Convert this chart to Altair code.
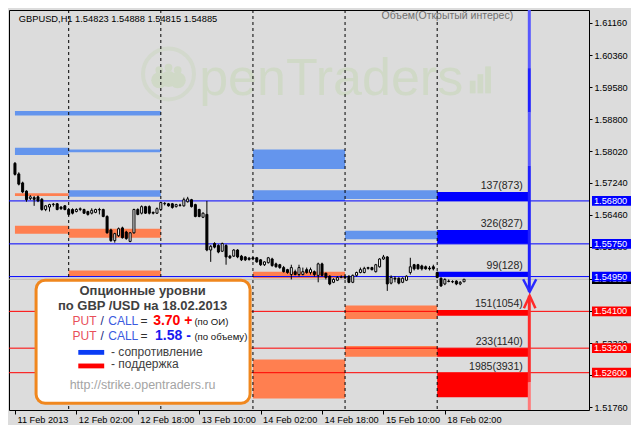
import altair as alt
import pandas as pd

# ---------------- data ----------------
opens = [1.5772,1.5746,1.5724,1.5704,1.5686,1.5688,1.5690,1.5684,1.5659,1.5665,1.5671,1.5673,1.5665,1.5668,1.5659,1.5659,1.5654,1.5659,1.5659,1.5654,
         1.5650,1.5652,1.5659,1.5659,1.5642,1.5609,1.5583,1.5595,1.5614,1.5604,1.5581,1.5602,1.5659,1.5650,1.5666,1.5666,1.5652,1.5650,1.5659,1.5673,
         1.5673,1.5673,1.5666,1.5670,1.5668,1.5678,1.5683,1.5671,1.5659,1.5640,1.5647,1.5560,1.5576,1.5571,1.5557,1.5571,1.5545,1.5545,1.5560,1.5545,
         1.5543,1.5540,1.5541,1.5541,1.5536,1.5524,1.5529,1.5538,1.5526,1.5524,1.5517,1.5512,1.5500,1.5507,1.5500,1.5500,1.5512,1.5505,1.5507,1.5498,
         1.5526,1.5503,1.5496,1.5481,1.5486,1.5493,1.5495,1.5496,1.5481,1.5498,1.5505,1.5505,1.5515,1.5517,1.5507,1.5519,1.5538,1.5543,1.5479,1.5491,
         1.5491,1.5481,1.5486,1.5505,1.5524,1.5524,1.5521,1.5519,1.5516,1.5519,1.5505,1.5491,1.5477,1.5484,1.5482,1.5484,1.5477,1.54823]
highs = [1.5775,1.5750,1.5727,1.5706,1.5694,1.5692,1.5693,1.5687,1.5670,1.5673,1.5675,1.5675,1.5667,1.5670,1.5661,1.5662,1.5662,1.5664,1.5661,1.5656,
         1.5662,1.5661,1.5663,1.5661,1.5645,1.5612,1.5602,1.5615,1.5617,1.5607,1.5604,1.5661,1.5662,1.5669,1.5668,1.5669,1.5654,1.5664,1.5678,1.5677,
         1.5675,1.5675,1.5673,1.5673,1.5688,1.5690,1.5685,1.5673,1.5661,1.5652,1.5680,1.5572,1.5579,1.5574,1.5578,1.5574,1.5548,1.5562,1.5562,1.5548,
         1.5545,1.5543,1.5543,1.5543,1.5538,1.5533,1.5543,1.5541,1.5529,1.5526,1.5521,1.5514,1.5524,1.5512,1.5524,1.5517,1.5517,1.5517,1.5510,1.5529,
         1.5529,1.5505,1.5498,1.5491,1.5496,1.5498,1.5498,1.5498,1.5500,1.5507,1.5517,1.5519,1.5519,1.5519,1.5526,1.5540,1.5548,1.5545,1.5498,1.5496,
         1.5493,1.5493,1.5498,1.5541,1.5526,1.5526,1.5524,1.5522,1.5521,1.5524,1.5507,1.5493,1.5491,1.5488,1.5486,1.5486,1.5484,1.54888]
lows = [1.5742,1.5718,1.5699,1.5678,1.5682,1.5668,1.5677,1.5656,1.5655,1.5654,1.5666,1.5657,1.5658,1.5657,1.5644,1.5647,1.5652,1.5655,1.5648,1.5644,
        1.5647,1.5650,1.5647,1.5640,1.5600,1.5580,1.5578,1.5592,1.5588,1.5585,1.5579,1.5600,1.5645,1.5647,1.5648,1.5647,1.5647,1.5648,1.5657,1.5669,
        1.5666,1.5661,1.5664,1.5666,1.5666,1.5676,1.5664,1.5640,1.5640,1.5638,1.5557,1.5531,1.5564,1.5552,1.5555,1.5524,1.5538,1.5543,1.5540,1.5533,
        1.5533,1.5534,1.5535,1.5529,1.5521,1.5521,1.5527,1.5519,1.5517,1.5514,1.5505,1.5502,1.5488,1.5498,1.5495,1.5498,1.5502,1.5500,1.5495,1.5481,
        1.5495,1.5488,1.5474,1.5479,1.5484,1.5491,1.5489,1.5479,1.5479,1.5495,1.5503,1.5503,1.5512,1.5510,1.5505,1.5517,1.5536,1.5460,1.5476,1.5481,
        1.5476,1.5479,1.5484,1.5500,1.5510,1.5512,1.5510,1.5512,1.5510,1.5510,1.5491,1.5470,1.5474,1.5481,1.5479,1.5474,1.5474,1.54815]
closes = [1.5745,1.5721,1.5702,1.5683,1.5690,1.5684,1.5680,1.5659,1.5668,1.5671,1.5672,1.5659,1.5661,1.5659,1.5647,1.5650,1.5659,1.5661,1.5650,1.5647,
          1.5657,1.5659,1.5658,1.5642,1.5602,1.5583,1.5600,1.5612,1.5590,1.5588,1.5602,1.5659,1.5647,1.5666,1.5650,1.5650,1.5650,1.5661,1.5676,1.5674,
          1.5668,1.5664,1.5671,1.5669,1.5683,1.5685,1.5666,1.5642,1.5642,1.5650,1.5560,1.5569,1.5567,1.5555,1.5576,1.5543,1.5541,1.5560,1.5543,1.5536,
          1.5536,1.5537,1.5538,1.5531,1.5524,1.5531,1.5541,1.5522,1.5519,1.5517,1.5507,1.5505,1.5517,1.5500,1.5517,1.5507,1.5505,1.5512,1.5500,1.5526,
          1.5498,1.5493,1.5477,1.5488,1.5493,1.5494,1.5492,1.5481,1.5498,1.5505,1.5512,1.5515,1.5517,1.5512,1.5524,1.5538,1.5543,1.5477,1.5493,1.5489,
          1.5479,1.5491,1.5496,1.5519,1.5514,1.5514,1.5514,1.5514,1.5514,1.5514,1.5493,1.5472,1.5488,1.5483,1.5483,1.5477,1.5481,1.54885]

x_tick_pos = [0, 16, 32, 48, 64, 80, 96, 112]
x_tick_labels = ["11 Feb 2013", "12 Feb 02:00", "12 Feb 18:00", "13 Feb 10:00",
                 "14 Feb 02:00", "14 Feb 18:00", "15 Feb 10:00", "18 Feb 02:00"]
y_tick_values = [1.6116, 1.6036, 1.5958, 1.5880, 1.5802, 1.5724, 1.5646,
                 1.5568, 1.5490, 1.5412, 1.5332, 1.5254, 1.5176]
# ticks whose labels sit fully under the coloured price boxes
y_tick_covered = [1.5490, 1.5412, 1.5254]
day_separators = [14, 38, 62, 86, 110]

# option zones (bar index start/end, price low/high, kind)
zone_start = [0, 0, 0, 0, 14, 14, 14, 14, 14, 62, 62, 62, 62, 86, 86, 86, 86,
              110, 110, 110, 110, 110, 110]
zone_end = [14, 14, 14, 14, 38, 38, 38, 38, 38, 86, 86, 86, 86, 110, 110, 110, 110,
            134, 134, 134, 134, 134, 134]
zone_low = [1.5889, 1.5792, 1.5692, 1.5600, 1.5889, 1.5799, 1.5690, 1.5590, 1.5496,
            1.5758, 1.5680, 1.5491, 1.5197, 1.5685, 1.5586, 1.5391, 1.5299,
            1.5680, 1.5575, 1.5495, 1.5399, 1.5299, 1.5200]
zone_high = [1.5900, 1.5810, 1.5699, 1.5619, 1.5900, 1.5806, 1.5706, 1.5612, 1.5510,
             1.5806, 1.5706, 1.5507, 1.5292, 1.5706, 1.5607, 1.5424, 1.5325,
             1.5702, 1.5609, 1.5507, 1.5413, 1.5320, 1.5259]
zone_kind = ["res", "res", "sup", "sup", "res", "res", "res", "sup", "sup",
             "res", "res", "sup", "sup", "res", "res", "sup", "sup",
             "res_now", "res_now", "res_now", "sup_now", "sup_now", "sup_now"]
kind_color = {"res": "#6495ED", "sup": "#FF7F50", "res_now": "#0000FF", "sup_now": "#FF0000"}

level_prices = [1.5680, 1.5575, 1.5495, 1.5410, 1.5320, 1.5260]
level_labels = ["1.56800", "1.55750", "1.54950", "1.54100", "1.53200", "1.52600"]
level_colors = ["#0000FF", "#0000FF", "#0000FF", "#FF0000", "#FF0000", "#FF0000"]

vol_labels = ["137(873)", "326(827)", "99(128)", "151(1054)", "233(1140)", "1985(3931)"]
vol_tops = [1.5702, 1.5609, 1.5507, 1.5413, 1.5320, 1.5259]

current_price = 1.54885

# ---------------- layout ----------------
W, H = 580, 400
FONT = "Liberation Sans"
xs = alt.Scale(domain=[-0.25, 148.25], nice=False, zero=False)
ys = alt.Scale(domain=[1.51688, 1.61468], nice=False, zero=False)


def label_expr(vals, labels):
    expr = "''"
    for v, l in zip(reversed(vals), reversed(labels)):
        expr = f"datum.value == {v} ? '{l}' : ({expr})"
    return expr


y_label_expr = " || ".join(f"abs(datum.value - {v}) < 0.00001" for v in y_tick_covered)
y_label_expr = f"({y_label_expr}) ? '' : format(datum.value, '.5f')"

AX = alt.Axis(values=x_tick_pos, labelExpr=label_expr(x_tick_pos, x_tick_labels),
              labelAlign="left", labelOffset=2, labelPadding=1, tickSize=4, tickColor="black",
              labelColor="black", labelFont=FONT, labelFontSize=9.2, domain=False, grid=False,
              title=None, labelFlush=False, labelOverlap=False, zindex=0)
AY = alt.Axis(orient="right", values=y_tick_values, labelExpr=y_label_expr, labelAlign="left",
              tickSize=3, tickColor="black", labelPadding=2, labelColor="black",
              labelFont=FONT, labelFontSize=9.2, domain=False, grid=False, title=None,
              labelFlush=False, labelOverlap=False, zindex=0)


def X(f):
    return alt.X(f, type="quantitative", scale=xs, axis=AX)


def Y(f):
    return alt.Y(f, type="quantitative", scale=ys, axis=AY)


def text_layer(rows, **kw):
    df = pd.DataFrame(rows, columns=["i", "p", "t"])
    return alt.Chart(df).mark_text(font=FONT, **kw).encode(x=X("i"), y=Y("p"), text="t:N")


candles = pd.DataFrame({"i": list(range(len(opens))), "o": opens, "h": highs,
                        "l": lows, "c": closes})
candles["fill"] = ["white" if c >= o else "black" for o, c in zip(opens, closes)]

zones = pd.DataFrame({"s": zone_start, "e": zone_end, "lo": zone_low, "hi": zone_high,
                      "col": [kind_color[k] for k in zone_kind]})
levels = pd.DataFrame({"p": level_prices, "t": level_labels, "col": level_colors})
levels["lo"] = levels["p"] - 0.00118
levels["hi"] = levels["p"] + 0.00118

layers = []

# watermark
wm_col = "#d0d9c7"
layers.append(alt.Chart(pd.DataFrame({"i": [40], "p": [1.59905]})).mark_point(
    shape="circle", size=2600, filled=False, stroke=wm_col, strokeWidth=4).encode(x=X("i"), y=Y("p")))
layers.append(alt.Chart(pd.DataFrame({"i": [37.6, 40, 42.4], "p": [1.6000, 1.6006, 1.6000]})).mark_point(
    shape="circle", size=60, filled=True, color=wm_col, opacity=1).encode(x=X("i"), y=Y("p")))
layers.append(alt.Chart(pd.DataFrame({"i": [37.6, 40, 42.4], "p": [1.5975, 1.5978, 1.5975]})).mark_point(
    shape="circle", size=260, filled=True, color=wm_col, opacity=1).encode(x=X("i"), y=Y("p")))
layers.append(text_layer([[48, 1.59384, "penTraders"]], fontSize=52, color=wm_col,
                         align="left", baseline="alphabetic"))
layers.append(alt.Chart(pd.DataFrame({"s": [118.5, 120.5, 122.5], "e": [120, 122, 124],
                                      "lo": [1.5943, 1.5943, 1.5943], "hi": [1.5974, 1.5990, 1.6009]})).mark_rect(
    color=wm_col).encode(x=X("s"), x2="e", y=Y("lo"), y2="hi"))

# option zones
layers.append(alt.Chart(zones).mark_rect().encode(
    x=X("s"), x2="e", y=Y("lo"), y2="hi", fill=alt.Fill("col:N", scale=None)))

# level lines
layers.append(alt.Chart(levels).mark_rule(strokeWidth=1).encode(
    y=Y("p"), color=alt.Color("col:N", scale=None)))
layers.append(alt.Chart(pd.DataFrame({"p": [current_price]})).mark_rule(
    color="#B8B8B8", strokeWidth=1).encode(y=Y("p")))

# day separators
layers.append(alt.Chart(pd.DataFrame({"i": day_separators})).mark_rule(
    color="black", strokeDash=[3, 3], strokeWidth=1).encode(x=X("i")))

# candles
layers.append(alt.Chart(candles).mark_rule(color="black", strokeWidth=1).encode(
    x=X("i"), y=Y("l"), y2="h"))
layers.append(alt.Chart(candles).mark_bar(width=2, stroke="black", strokeWidth=1).encode(
    x=X("i"), y=Y("o"), y2="c", fill=alt.Fill("fill:N", scale=None)))

# volume labels
layers.append(text_layer([[132.3, p, t] for p, t in zip(vol_tops, vol_labels)],
                         fontSize=10.5, color="#262626", align="right", baseline="bottom", dy=-1))

# vertical indicator line + arrows
vseg = pd.DataFrame({"i": [134] * 6,
                     "a": [1.61468, 1.60047, 1.58958, 1.57655, 1.54482, 1.52370],
                     "b": [1.60047, 1.58958, 1.57655, 1.54577, 1.52370, 1.51688],
                     "col": ["#5858ff", "#2020ff", "#5858ff", "#2020ff", "#ff2a2a", "#ff7a7a"]})
layers.append(alt.Chart(vseg).mark_rule(strokeWidth=3).encode(
    x=X("i"), y=Y("a"), y2="b", color=alt.Color("col:N", scale=None)))
arrows = pd.DataFrame({"i": [132.4, 134.1, 135.8, 132.6, 134.1, 135.6],
                       "p": [1.54885, 1.54577, 1.54885, 1.54174, 1.54482, 1.54174],
                       "g": ["b", "b", "b", "r", "r", "r"], "o": [0, 1, 2, 0, 1, 2]})
layers.append(alt.Chart(arrows[arrows.g == "b"]).mark_line(color="#2a2aff", strokeWidth=2.5).encode(
    x=X("i"), y=Y("p"), order="o:Q"))
layers.append(alt.Chart(arrows[arrows.g == "r"]).mark_line(color="#ff2a2a", strokeWidth=2.5).encode(
    x=X("i"), y=Y("p"), order="o:Q"))

# header texts
layers.append(text_layer([[1, 1.61255, "GBPUSD,H1  1.54823 1.54888 1.54815 1.54885"]],
                         fontSize=9.3, color="black", align="left", baseline="middle"))
layers.append(text_layer([[95.5, 1.61320, "Объем(Открытый интерес)"]],
                         fontSize=10.5, color="#707070", align="left", baseline="middle"))

# legend box
layers.append(alt.Chart(pd.DataFrame({"s": [5.5], "e": [61.25], "lo": [1.51854], "hi": [1.54861]})).mark_rect(
    fill="white", stroke="#F0871E", strokeWidth=3, cornerRadius=9).encode(
    x=X("s"), x2="e", y=Y("lo"), y2="hi"))
layers.append(text_layer([[33.25, 1.54601, "Опционные уровни"],
                          [33.25, 1.54222, "по GBP /USD на 18.02.2013"]],
                         fontSize=13, fontWeight="bold", color="#404040", align="center", baseline="middle"))
for p in [1.53867, 1.53488]:
    layers.append(text_layer([[15.0, p, "PUT"]], fontSize=12, color="#E8505A", align="left", baseline="middle"))
    layers.append(text_layer([[22.3, p, "/"]], fontSize=12, color="#1A2A80", align="left", baseline="middle"))
    layers.append(text_layer([[24.3, p, "CALL"]], fontSize=12, color="#3A5AE0", align="left", baseline="middle"))
    layers.append(text_layer([[32.7, p, "="]], fontSize=12, color="#303030", align="left", baseline="middle"))
layers.append(text_layer([[36.0, 1.53867, "3.70 +"]], fontSize=14, fontWeight="bold", color="#FF0000",
                         align="left", baseline="middle"))
layers.append(text_layer([[36.5, 1.53488, "1.58 -"]], fontSize=14, fontWeight="bold", color="#1A1AF0",
                         align="left", baseline="middle"))
layers.append(text_layer([[46.75, 1.53850, "(по ОИ)"], [46.75, 1.53471, "(по объему)"]],
                         fontSize=9.6, color="#111111", align="left", baseline="middle"))
layers.append(alt.Chart(pd.DataFrame({"s": [16.5, 16.5], "e": [23.25, 23.25],
                                      "lo": [1.53038, 1.52706], "hi": [1.53156, 1.52824],
                                      "col": ["#0A3CF5", "#FF0000"]})).mark_rect().encode(
    x=X("s"), x2="e", y=Y("lo"), y2="hi", fill=alt.Fill("col:N", scale=None)))
layers.append(text_layer([[25.0, 1.53109, "- сопротивление"], [25.0, 1.52801, "- поддержка"]],
                         fontSize=12, color="#404040", align="left", baseline="middle"))
layers.append(text_layer([[33.25, 1.52304, "http://strike.opentraders.ru"]],
                         fontSize=12.5, color="#A4A4A4", align="center", baseline="middle"))

# right-side price boxes
cur = pd.DataFrame({"p": [current_price], "t": ["1.54885"], "col": ["black"]})
cur["lo"] = cur["p"] - 0.00118
cur["hi"] = cur["p"] + 0.00118
for d in [cur, levels]:
    layers.append(alt.Chart(d).mark_rect().encode(
        x=alt.value(W + 3), x2=alt.value(W + 42), y=Y("lo"), y2="hi",
        fill=alt.Fill("col:N", scale=None)))
    layers.append(alt.Chart(d).mark_text(font=FONT, fontSize=9.2, color="white", align="left",
                                         baseline="middle").encode(
        x=alt.value(W + 5), y=Y("p"), text="t:N"))

chart = alt.layer(*layers).properties(
    width=W, height=H, padding={"left": 0, "top": 0, "right": 0, "bottom": 0}
).configure(background="#DCDCDC").configure_view(
    fill="#DCDCDC", stroke="black", strokeWidth=1)

chart.save("out.html", embed_options={"renderer": "svg", "actions": False})
